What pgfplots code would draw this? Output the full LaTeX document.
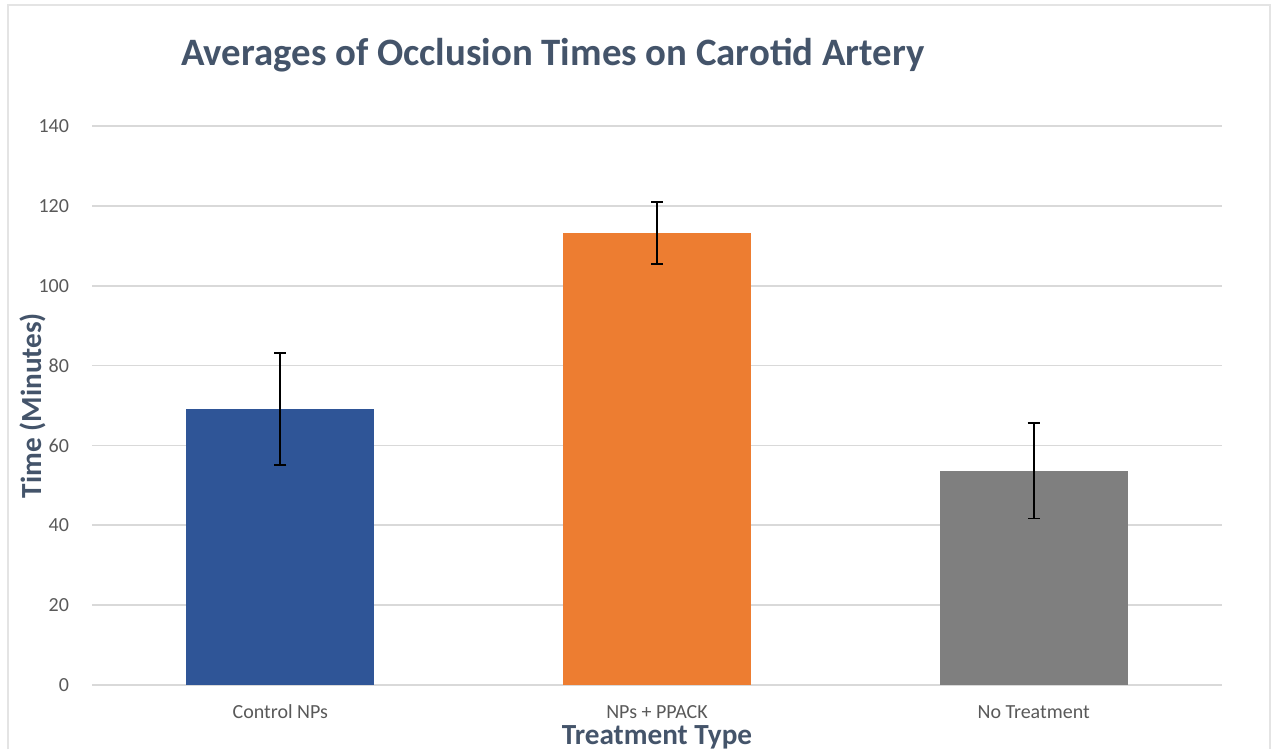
\documentclass[border=0pt]{standalone}
\usepackage{pgfplots}
\pgfplotsset{compat=1.18}
\usepackage{fontspec}
\setmainfont{Carlito}
\definecolor{barblue}{HTML}{2F5597}
\definecolor{barorange}{HTML}{ED7D31}
\definecolor{bargray}{HTML}{7F7F7F}
\definecolor{titlecol}{HTML}{44546A}
\definecolor{tickcol}{HTML}{595959}
\definecolor{gridcol}{HTML}{D9D9D9}
\begin{document}
\begin{tikzpicture}
\path (0,0) rectangle (638.5pt,375pt);
\draw[gridcol!70, line width=0.6pt] (4pt,0.3pt) -- (4pt,372.5pt) -- (635pt,372.5pt) -- (635pt,0.3pt);
\begin{axis}[
  at={(46pt,32.5pt)}, anchor=south west,
  scale only axis, width=565pt, height=279.5pt,
  xmin=-0.5, xmax=2.5, ymin=0, ymax=140,
  axis line style={draw=none},
  ytick={0,20,...,140},
  xtick={0,1,2},
  xticklabels={Control NPs, NPs + PPACK, No Treatment},
  major tick length=0pt,
  ymajorgrids, grid style={gridcol, line width=0.8pt},
  tick label style={text=tickcol, font=\fontsize{10}{12}\selectfont},
  /pgf/number format/assume math mode=true,
  yticklabel style={anchor=east, xshift=-8pt},
  xticklabel style={anchor=center, yshift=-13.5pt},
  xlabel={Treatment Type},
  ylabel={Time (Minutes)},
  every axis x label/.style={at={(axis description cs:0.5,0)}, anchor=center, yshift=-26pt, text=titlecol, font=\bfseries\fontsize{14.6}{16}\selectfont},
  every axis y label/.style={at={(axis description cs:0,0.5)}, anchor=center, xshift=-29.5pt, rotate=90, text=titlecol, font=\bfseries\fontsize{14.6}{16}\selectfont},
  bar width=94pt,
  ybar, bar shift=0pt,
  clip=false,
]
\addplot[fill=barblue, draw=none, error bars/.cd, y dir=both, y explicit,
  error bar style={black, line width=0.9pt}, error mark options={black, line width=0.9pt, mark size=3pt, rotate=90}]
  coordinates {(0,69.1) +- (0,14.0)};
\addplot[fill=barorange, draw=none, error bars/.cd, y dir=both, y explicit,
  error bar style={black, line width=0.9pt}, error mark options={black, line width=0.9pt, mark size=3pt, rotate=90}]
  coordinates {(1,113.2) +- (0,7.8)};
\addplot[fill=bargray, draw=none, error bars/.cd, y dir=both, y explicit,
  error bar style={black, line width=0.9pt}, error mark options={black, line width=0.9pt, mark size=3pt, rotate=90}]
  coordinates {(2,53.7) +- (0,12.0)};
\end{axis}
\node[text=titlecol, font=\bfseries\fontsize{19.4}{22}\selectfont, anchor=center] at (276.5pt,347.5pt) {Averages of Occlusion Times on Carotid Artery};
\end{tikzpicture}
\end{document}
